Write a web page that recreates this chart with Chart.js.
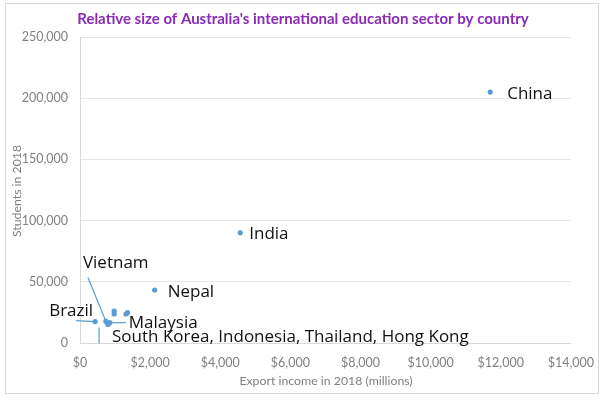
<!DOCTYPE html>
<html>
<head>
<meta charset="utf-8">
<script src="https://cdn.jsdelivr.net/npm/chart.js@4"></script>
<style>
  html, body { margin: 0; padding: 0; background: #fff; }
  #wrap { width: 606px; height: 402px; position: relative; }
</style>
</head>
<body>
<div id="wrap"><canvas id="chart" width="606" height="402"></canvas></div>
<script>
// Data
const countries = ['China', 'India', 'Nepal', 'Vietnam', 'Malaysia', 'Brazil',
  'Other', 'South Korea', 'Indonesia', 'Thailand', 'Hong Kong']
const exportIncome = [11700, 4570, 2130, 740, 850, 430, 800, 975, 975, 1355, 1310]
const students = [205000, 90000, 43300, 17600, 16600, 17500, 15100, 26100, 23700, 24800, 23700]
const xTicks = [0, 2000, 4000, 6000, 8000, 10000, 12000, 14000]
const yTicks = [0, 50000, 100000, 150000, 200000, 250000]
const chartTitle = "Relative size of Australia's international education sector by country"
const xTitle = 'Export income in 2018 (millions)'
const yTitle = 'Students in 2018'

const blue = '#5B9BD5'
const grey = '#808080'
const font = 'Lato, "Open Sans", sans-serif'
const labelFont = '"Open Sans", Lato, sans-serif'

let points = exportIncome.map((x, i) => ({ x: x, y: students[i] }))

// Labels with offsets from their point (pixels), plus optional leader lines
let pointLabels = [
  { name: 'China', dx: 17, dy: 2 },
  { name: 'India', dx: 9, dy: 1 },
  { name: 'Nepal', dx: 13, dy: 2 },
  { name: 'Vietnam', dx: -23, dy: -58, lead: [-18, -44, 0, 0] },
  { name: 'Brazil', dx: -2, dy: -10, align: 'right', lead: [-19, -1, 0, 0] },
  { name: 'Malaysia', dx: 19, dy: 0, lead: [16, 0, 0, 0] },
  { name: 'Other', text: 'South Korea, Indonesia, Thailand, Hong Kong', dx: 4, dy: 13, lead: [-9, 3, -9, 19] }
]

const labelPlugin = {
  id: 'labels',
  afterDatasetsDraw(chart) {
    let ctx = chart.ctx
    let xs = chart.scales.x
    let ys = chart.scales.y
    ctx.save()
    pointLabels.forEach(lab => {
      let i = countries.indexOf(lab.name)
      let px = xs.getPixelForValue(exportIncome[i])
      let py = ys.getPixelForValue(students[i])
      if (lab.lead) {
        ctx.strokeStyle = blue
        ctx.lineWidth = 1.2
        ctx.beginPath()
        ctx.moveTo(px + lab.lead[0], py + lab.lead[1])
        ctx.lineTo(px + lab.lead[2], py + lab.lead[3])
        ctx.stroke()
      }
      ctx.fillStyle = '#111'
      ctx.font = '17px ' + labelFont
      ctx.textBaseline = 'middle'
      ctx.textAlign = lab.align || 'left'
      ctx.fillText(lab.text || lab.name, px + lab.dx, py + lab.dy)
    })
    ctx.restore()
  }
}

// Title, axis titles and the outer border
const framePlugin = {
  id: 'frame',
  afterDraw(chart) {
    let ctx = chart.ctx
    ctx.save()
    ctx.strokeStyle = '#d9d9d9'
    ctx.lineWidth = 1
    ctx.strokeRect(5.5, 3.5, 593, 390)
    ctx.fillStyle = '#8A2BB5'
    ctx.font = 'bold 15px ' + font
    ctx.textAlign = 'center'
    ctx.textBaseline = 'middle'
    ctx.fillText(chartTitle, 303, 19)
    ctx.fillStyle = grey
    ctx.font = '12.3px ' + font
    ctx.fillText(xTitle, 326, 381)
    ctx.translate(17, 191)
    ctx.rotate(-Math.PI / 2)
    ctx.fillText(yTitle, 0, 0)
    ctx.restore()
  }
}

new Chart('chart', {
  type: 'scatter',
  data: {
    datasets: [{
      data: points,
      backgroundColor: blue,
      borderColor: blue,
      pointRadius: 2.6,
      pointBorderWidth: 0
    }]
  },
  options: {
    responsive: false,
    animation: false,
    layout: { padding: { top: 37, right: 33, bottom: 9, left: 5 } },
    plugins: {
      legend: { display: false },
      tooltip: { enabled: false }
    },
    scales: {
      x: {
        type: 'linear',
        min: 0,
        max: 14000,
        afterBuildTicks: s => { s.ticks = xTicks.map(v => ({ value: v })) },
        afterFit: s => { s.height = 50 },
        grid: { display: false, drawTicks: false },
        border: { color: '#d9d9d9' },
        ticks: {
          color: grey,
          font: { family: font, size: 12.5 },
          padding: 12,
          maxRotation: 0,
          callback: v => '$' + v.toLocaleString('en-US')
        }
      },
      y: {
        type: 'linear',
        min: 0,
        max: 250000,
        afterBuildTicks: s => { s.ticks = yTicks.map(v => ({ value: v })) },
        afterFit: s => { s.width = 75 },
        grid: { color: '#e6e6e6', drawTicks: false },
        border: { color: '#d9d9d9' },
        ticks: {
          color: grey,
          font: { family: font, size: 12.5 },
          padding: 12,
          callback: v => v.toLocaleString('en-US')
        }
      }
    }
  },
  plugins: [labelPlugin, framePlugin]
})
</script>
</body>
</html>
